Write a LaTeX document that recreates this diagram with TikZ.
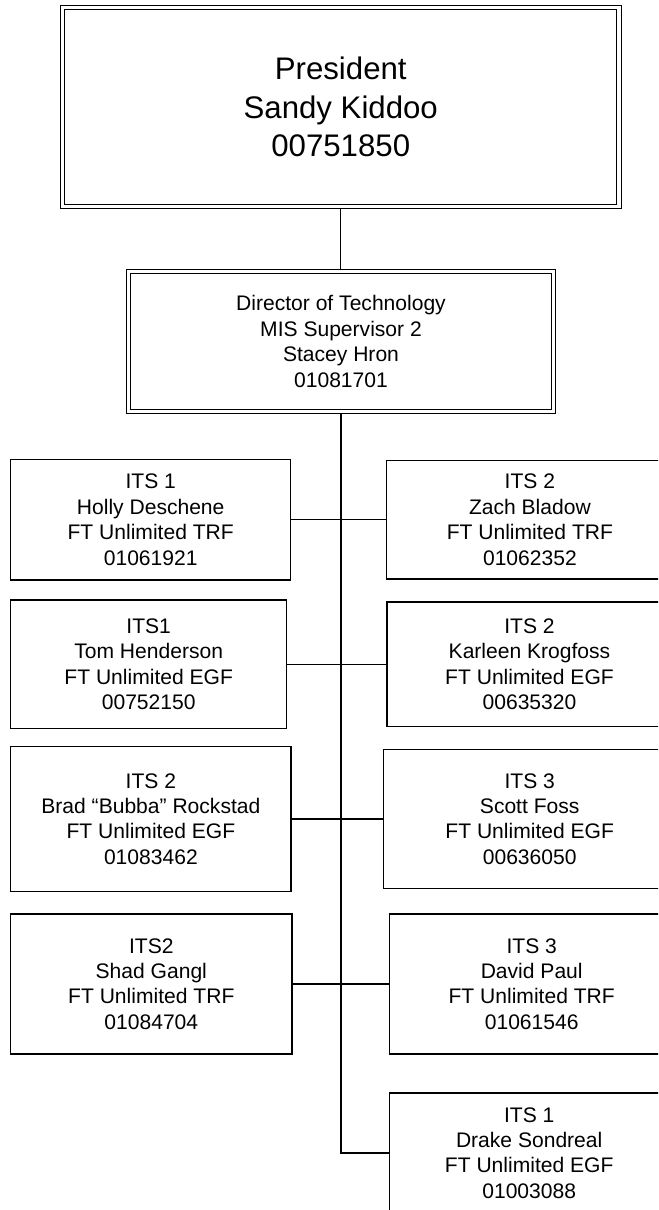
\documentclass[tikz,border=0pt]{standalone}
\usepackage{fontspec}
\setmainfont{Liberation Sans}
\begin{document}
\begin{tikzpicture}[x=0.75pt,y=-0.75pt,
    person/.style={draw,line width=1pt,inner sep=0pt,align=center,font=\fontsize{15.8}{19.1}\selectfont},
    headbox/.style={person,line width=0.9pt,double,double distance=2.4pt,outer sep=2.1pt},
    link/.style={line width=0.9pt},
    trunk/.style={line width=1.5pt}]
    \useasboundingbox (0,0) rectangle (658,1210);
    \clip (0,0) rectangle (658,1210);
    \node[headbox,minimum width=417.4pt,minimum height=149.4pt,font=\fontsize{23.4}{28.9}\selectfont] (pres) at (340.75,106.9) {President\\Sandy Kiddoo\\00751850};
    \node[headbox,minimum width=318.75pt,minimum height=105pt] (dir) at (341,341.5) {Director of Technology\\MIS Supervisor 2\\Stacey Hron\\01081701};
    \node[person,minimum width=210pt,minimum height=90.5pt] (holly) at (150.7,519.8) {ITS 1\\Holly Deschene\\FT Unlimited TRF\\01061921};
    \node[person,minimum width=207pt,minimum height=96.5pt] (tom) at (148.7,664.2) {ITS1\\Tom Henderson\\FT Unlimited EGF\\00752150};
    \node[person,minimum width=210.2pt,minimum height=108.3pt] (brad) at (150.9,819) {ITS 2\\Brad “Bubba” Rockstad\\FT Unlimited EGF\\01083462};
    \node[person,minimum width=211pt,minimum height=105pt] (shad) at (151.3,984) {ITS2\\Shad Gangl\\FT Unlimited TRF\\01084704};
    \node[person,minimum width=214.7pt,minimum height=88.7pt] (zach) at (529.9,519.8) {ITS 2\\Zach Bladow\\FT Unlimited TRF\\01062352};
    \node[person,minimum width=213.75pt,minimum height=93.2pt] (karleen) at (529.5,664.2) {ITS 2\\Karleen Krogfoss\\FT Unlimited EGF\\00635320};
    \node[person,minimum width=219.5pt,minimum height=104pt] (scott) at (529.7,819) {ITS 3\\Scott Foss\\FT Unlimited EGF\\00636050};
    \node[person,minimum width=213.5pt,minimum height=105pt] (david) at (531.7,984) {ITS 3\\David Paul\\FT Unlimited TRF\\01061546};
    \node[person,minimum width=209.8pt,minimum height=90pt] (drake) at (529.2,1153) {ITS 1\\Drake Sondreal\\FT Unlimited EGF\\01003088};
    \draw[link] (pres.south) -- (pres.south |- dir.north);
    \draw[trunk] (dir.south) |- (drake.west);
    \draw[link] (holly.east) -- (zach.west);
    \draw[link] (tom.east) -- (karleen.west);
    \draw[link] (brad.east) -- (scott.west);
    \draw[link] (shad.east) -- (david.west);
\end{tikzpicture}
\end{document}
